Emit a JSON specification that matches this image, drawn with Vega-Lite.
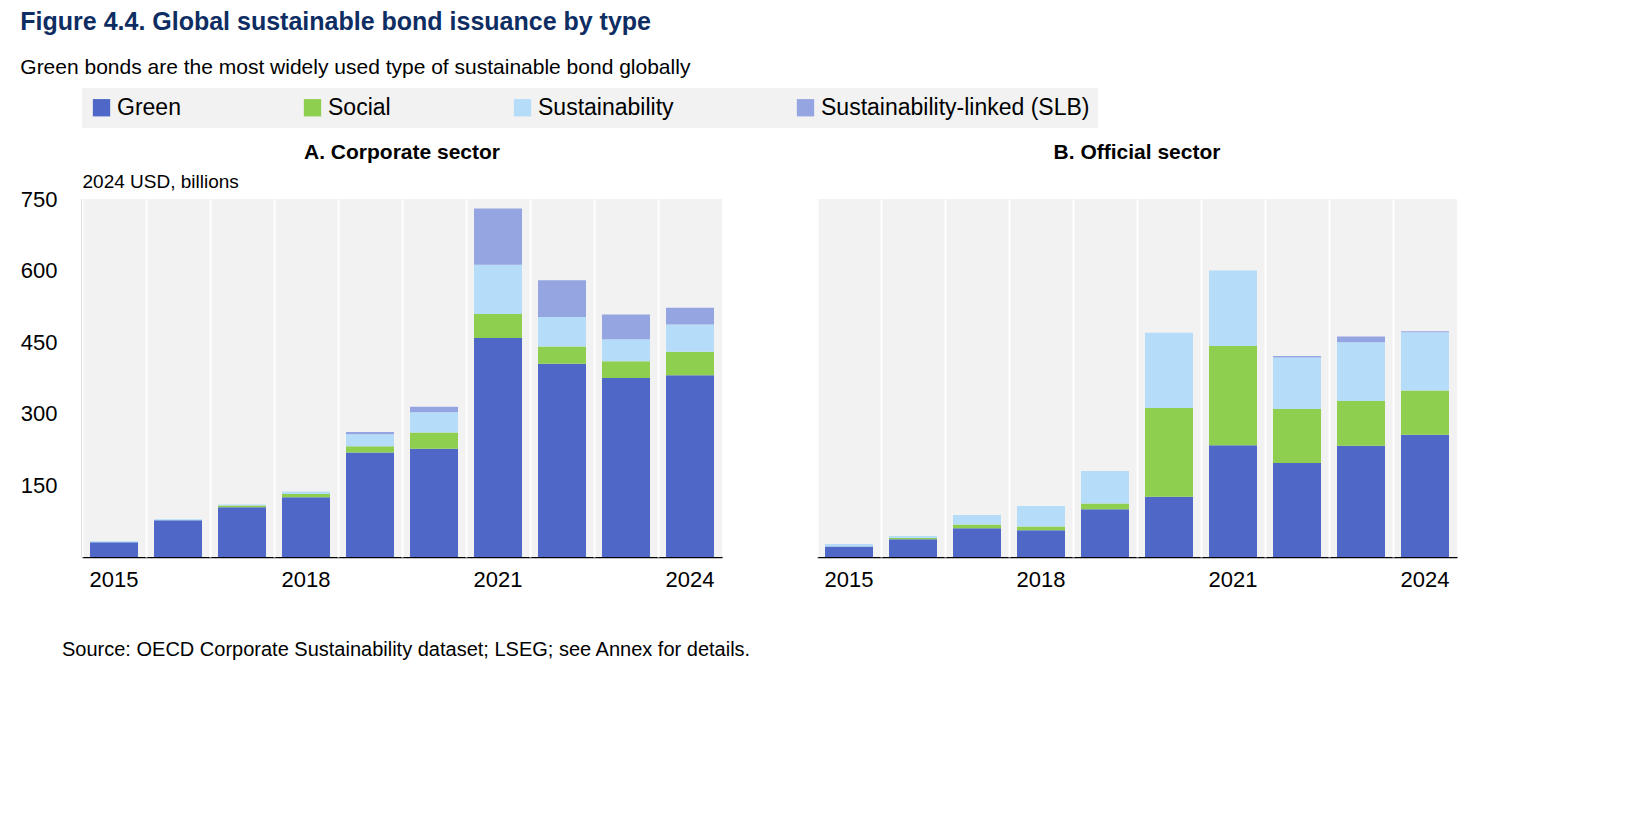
{
  "$schema": "https://vega.github.io/schema/vega-lite/v6.json",
  "padding": {"left": 20, "top": 10, "right": 10, "bottom": 10},
  "background": "white",
  "title": {
    "text": "Figure 4.4. Global sustainable bond issuance by type",
    "subtitle": "Green bonds are the most widely used type of sustainable bond globally",
    "anchor": "start",
    "fontSize": 25,
    "fontWeight": "bold",
    "color": "#0e2d63",
    "subtitleFontSize": 21,
    "subtitleColor": "#000",
    "subtitlePadding": 22,
    "offset": 10
  },
  "vconcat": [
    {
      "data": {
        "values": [
          {"panel": "A. Corporate sector", "year": "2015", "type": "Green", "value": 31},
          {"panel": "A. Corporate sector", "year": "2015", "type": "Sustainability", "value": 2},
          {"panel": "A. Corporate sector", "year": "2016", "type": "Green", "value": 77},
          {"panel": "A. Corporate sector", "year": "2016", "type": "Sustainability", "value": 2},
          {"panel": "A. Corporate sector", "year": "2017", "type": "Green", "value": 104},
          {"panel": "A. Corporate sector", "year": "2017", "type": "Social", "value": 4},
          {"panel": "A. Corporate sector", "year": "2017", "type": "Sustainability", "value": 2},
          {"panel": "A. Corporate sector", "year": "2018", "type": "Green", "value": 125},
          {"panel": "A. Corporate sector", "year": "2018", "type": "Social", "value": 7},
          {"panel": "A. Corporate sector", "year": "2018", "type": "Sustainability", "value": 5},
          {"panel": "A. Corporate sector", "year": "2019", "type": "Green", "value": 219},
          {"panel": "A. Corporate sector", "year": "2019", "type": "Social", "value": 13},
          {"panel": "A. Corporate sector", "year": "2019", "type": "Sustainability", "value": 25},
          {"panel": "A. Corporate sector", "year": "2019", "type": "Sustainability-linked (SLB)", "value": 5},
          {"panel": "A. Corporate sector", "year": "2020", "type": "Green", "value": 227},
          {"panel": "A. Corporate sector", "year": "2020", "type": "Social", "value": 34},
          {"panel": "A. Corporate sector", "year": "2020", "type": "Sustainability", "value": 42},
          {"panel": "A. Corporate sector", "year": "2020", "type": "Sustainability-linked (SLB)", "value": 12},
          {"panel": "A. Corporate sector", "year": "2021", "type": "Green", "value": 459},
          {"panel": "A. Corporate sector", "year": "2021", "type": "Social", "value": 50},
          {"panel": "A. Corporate sector", "year": "2021", "type": "Sustainability", "value": 103},
          {"panel": "A. Corporate sector", "year": "2021", "type": "Sustainability-linked (SLB)", "value": 118},
          {"panel": "A. Corporate sector", "year": "2022", "type": "Green", "value": 405},
          {"panel": "A. Corporate sector", "year": "2022", "type": "Social", "value": 36},
          {"panel": "A. Corporate sector", "year": "2022", "type": "Sustainability", "value": 62},
          {"panel": "A. Corporate sector", "year": "2022", "type": "Sustainability-linked (SLB)", "value": 77},
          {"panel": "A. Corporate sector", "year": "2023", "type": "Green", "value": 375},
          {"panel": "A. Corporate sector", "year": "2023", "type": "Social", "value": 35},
          {"panel": "A. Corporate sector", "year": "2023", "type": "Sustainability", "value": 46},
          {"panel": "A. Corporate sector", "year": "2023", "type": "Sustainability-linked (SLB)", "value": 52},
          {"panel": "A. Corporate sector", "year": "2024", "type": "Green", "value": 381},
          {"panel": "A. Corporate sector", "year": "2024", "type": "Social", "value": 49},
          {"panel": "A. Corporate sector", "year": "2024", "type": "Sustainability", "value": 57},
          {"panel": "A. Corporate sector", "year": "2024", "type": "Sustainability-linked (SLB)", "value": 35},
          {"panel": "B. Official sector", "year": "2015", "type": "Green", "value": 22},
          {"panel": "B. Official sector", "year": "2015", "type": "Sustainability", "value": 5},
          {"panel": "B. Official sector", "year": "2016", "type": "Green", "value": 37},
          {"panel": "B. Official sector", "year": "2016", "type": "Social", "value": 3},
          {"panel": "B. Official sector", "year": "2016", "type": "Sustainability", "value": 4},
          {"panel": "B. Official sector", "year": "2017", "type": "Green", "value": 60},
          {"panel": "B. Official sector", "year": "2017", "type": "Social", "value": 8},
          {"panel": "B. Official sector", "year": "2017", "type": "Sustainability", "value": 20},
          {"panel": "B. Official sector", "year": "2018", "type": "Green", "value": 56},
          {"panel": "B. Official sector", "year": "2018", "type": "Social", "value": 8},
          {"panel": "B. Official sector", "year": "2018", "type": "Sustainability", "value": 43},
          {"panel": "B. Official sector", "year": "2019", "type": "Green", "value": 100},
          {"panel": "B. Official sector", "year": "2019", "type": "Social", "value": 12},
          {"panel": "B. Official sector", "year": "2019", "type": "Sustainability", "value": 68},
          {"panel": "B. Official sector", "year": "2020", "type": "Green", "value": 126},
          {"panel": "B. Official sector", "year": "2020", "type": "Social", "value": 186},
          {"panel": "B. Official sector", "year": "2020", "type": "Sustainability", "value": 158},
          {"panel": "B. Official sector", "year": "2021", "type": "Green", "value": 234},
          {"panel": "B. Official sector", "year": "2021", "type": "Social", "value": 208},
          {"panel": "B. Official sector", "year": "2021", "type": "Sustainability", "value": 158},
          {"panel": "B. Official sector", "year": "2022", "type": "Green", "value": 197},
          {"panel": "B. Official sector", "year": "2022", "type": "Social", "value": 113},
          {"panel": "B. Official sector", "year": "2022", "type": "Sustainability", "value": 108},
          {"panel": "B. Official sector", "year": "2022", "type": "Sustainability-linked (SLB)", "value": 3},
          {"panel": "B. Official sector", "year": "2023", "type": "Green", "value": 233},
          {"panel": "B. Official sector", "year": "2023", "type": "Social", "value": 94},
          {"panel": "B. Official sector", "year": "2023", "type": "Sustainability", "value": 123},
          {"panel": "B. Official sector", "year": "2023", "type": "Sustainability-linked (SLB)", "value": 12},
          {"panel": "B. Official sector", "year": "2024", "type": "Green", "value": 256},
          {"panel": "B. Official sector", "year": "2024", "type": "Social", "value": 93},
          {"panel": "B. Official sector", "year": "2024", "type": "Sustainability", "value": 122},
          {"panel": "B. Official sector", "year": "2024", "type": "Sustainability-linked (SLB)", "value": 2}
        ]
      },
      "facet": {
        "column": {
          "field": "panel",
          "type": "nominal",
          "title": null,
          "header": {"labelFontSize": 21, "labelFontWeight": "bold", "labelColor": "#000", "labelPadding": 36}
        }
      },
      "spacing": 95,
      "spec": {
        "width": 640,
        "height": 358,
        "mark": {"type": "bar", "width": {"band": 0.75}},
        "encoding": {
          "x": {
            "field": "year",
            "type": "ordinal",
            "scale": {"paddingInner": 0, "paddingOuter": 0},
            "axis": {
              "title": null,
              "labelAngle": 0,
              "labelFontSize": 22,
              "labelPadding": 12,
              "labelExpr": "indexof(['2015','2018','2021','2024'], datum.label) >= 0 ? datum.label : ''",
              "bandPosition": 0,
              "ticks": false,
              "grid": true,
              "gridColor": "white",
              "gridWidth": 2,
              "domainColor": "#000",
              "domainWidth": 1.5
            }
          },
          "y": {
            "field": "value",
            "type": "quantitative",
            "stack": "zero",
            "scale": {"domain": [0, 750]},
            "axis": {
              "title": "2024 USD, billions",
              "titleAngle": 0,
              "titleAlign": "left",
              "titleBaseline": "bottom",
              "titleX": 0,
              "titleY": -8,
              "titleFontSize": 19,
              "titleFontWeight": "normal",
              "values": [150, 300, 450, 600, 750],
              "labelFontSize": 22,
              "labelPadding": 25,
              "ticks": false,
              "grid": false,
              "domainColor": "#000",
              "domainWidth": 1.5
            }
          },
          "color": {
            "field": "type",
            "type": "nominal",
            "sort": ["Green", "Social", "Sustainability", "Sustainability-linked (SLB)"],
            "scale": {
              "domain": ["Green", "Social", "Sustainability", "Sustainability-linked (SLB)"],
              "range": ["#4f68c8", "#8fcf4f", "#b5dcf8", "#95a5e1"]
            },
            "legend": {
              "title": null,
              "orient": "top",
              "direction": "horizontal",
              "symbolType": "square",
              "symbolSize": 300,
              "labelFontSize": 23,
              "labelLimit": 0,
              "columnPadding": 120,
              "fillColor": "#f2f2f2",
              "padding": 8,
              "offset": 14
            }
          },
          "order": {"field": "type", "sort": "ascending"}
        }
      }
    },
    {
      "width": 1500,
      "height": 20,
      "data": {"values": [{"note": "Source: OECD Corporate Sustainability dataset; LSEG; see Annex for details."}]},
      "mark": {"type": "text", "align": "left", "baseline": "middle", "fontSize": 20, "x": 0, "dx": -20},
      "encoding": {"text": {"field": "note", "type": "nominal"}}
    }
  ],
  "spacing": 50,
  "config": {
    "font": "Liberation Sans",
    "view": {"fill": "#f2f2f2", "stroke": null},
    "concat": {"spacing": 50}
  }
}
